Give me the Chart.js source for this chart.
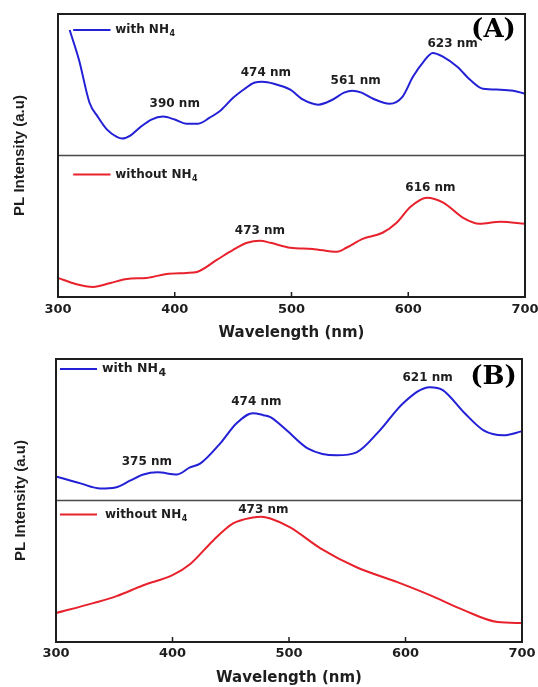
<!DOCTYPE html>
<html>
<head>
<meta charset="utf-8">
<script src="https://cdn.jsdelivr.net/npm/chart.js@4"></script>
<style>
  html, body { margin: 0; padding: 0; background: #ffffff; }
  #wrap { position: relative; width: 538px; height: 687px; }
  canvas { position: absolute; left: 0; }
</style>
</head>
<body>
<div id="wrap">
  <canvas id="chartA" width="538" height="345" style="top:0px"></canvas>
  <canvas id="chartB" width="538" height="342" style="top:345px"></canvas>
</div>
<script>
// ---------- Data ----------
const xTicks = [300, 400, 500, 600, 700];

// Panel (A), with NH4
const wlAWith  = [310, 318, 327, 334, 342, 350, 355, 362, 370, 380, 390, 400, 410, 420, 430, 440, 450, 460, 468, 475, 485, 499, 510, 523, 535, 545, 552, 560, 570, 584, 595, 604, 613, 621, 630, 642, 653, 664, 679, 690, 700];
const plAWith  = [88.7, 67.5, 37.3, 27.5, 18.3, 13.4, 12.0, 14.1, 19.7, 25.4, 27.5, 25.4, 22.5, 22.5, 26.8, 32.4, 40.8, 47.2, 51.4, 52.1, 50.7, 46.5, 39.4, 35.9, 39.4, 44.4, 45.8, 44.4, 40.1, 36.6, 41.5, 55.6, 66.2, 72.5, 69.7, 62.7, 53.5, 47.2, 46.5, 45.8, 43.7];

// Panel (A), without NH4
const wlAWithout = [300, 315, 330, 345, 359, 376, 393, 410, 419, 436, 450, 462, 473, 482, 499, 518, 539, 547, 561, 578, 590, 602, 616, 630, 647, 661, 679, 700];
const plAWithout = [13.5, 9.2, 7.1, 9.9, 12.8, 13.5, 16.3, 17.0, 17.7, 26.2, 33.3, 38.3, 39.7, 38.3, 34.8, 34.0, 31.9, 34.8, 41.1, 45.4, 52.5, 63.8, 70.2, 66.7, 56.0, 51.8, 53.2, 51.8];

// Panel (B), with NH4
const wlBWith  = [300, 321, 338, 351, 364, 375, 387, 404, 415, 424, 441, 455, 469, 478, 484, 498, 516, 541, 558, 578, 598, 621, 632, 650, 667, 684, 700];
const plBWith  = [17.0, 12.1, 8.5, 9.2, 14.2, 18.4, 19.9, 18.4, 23.4, 26.2, 40.4, 54.6, 61.7, 60.3, 58.9, 49.6, 36.9, 31.9, 34.0, 49.6, 68.8, 80.1, 78.0, 62.4, 49.6, 46.1, 48.9];

// Panel (B), without NH4
const wlBWithout = [300, 332, 352, 375, 400, 415, 435, 452, 469, 476, 484, 501, 527, 558, 593, 621, 650, 679, 700];
const plBWithout = [20.4, 27.5, 32.4, 40.1, 47.2, 54.9, 71.8, 83.8, 88.0, 88.5, 87.3, 81.0, 66.2, 52.8, 42.3, 33.1, 22.5, 14.1, 13.4];

// Peak annotations: text, wavelength, intensity
const peaksAWith    = [["390 nm", 400, 36.6], ["474 nm", 478, 58.5], ["561 nm", 555, 52.8], ["623 nm", 638, 78.9]];
const peaksAWithout = [["473 nm", 473, 46.8], ["616 nm", 619, 77.3]];
const peaksBWith    = [["375 nm", 378, 27.0], ["474 nm", 472, 69.7], ["621 nm", 619, 86.5]];
const peaksBWithout = [["473 nm", 478, 93.7]];

const seriesNames = ["with NH", "without NH"];

// ---------- Styling ----------
const BLUE = '#2320d6';
const RED  = '#e8222c';
const INK  = '#1e1e1e';
const SANS = '"DejaVu Sans", "Liberation Sans", Arial, sans-serif';
const SERIF = '"DejaVu Serif", "Liberation Serif", serif';

function pts(xs, ys) { return xs.map((x, i) => ({ x: x, y: ys[i] })); }

const decor = {
  id: 'decor',
  afterDatasetsDraw(chart, args, o) {
    const ctx = chart.ctx;
    const { left, right, top, bottom } = chart.chartArea;
    const xs = chart.scales.x;
    const yT = chart.scales.yTop;
    ctx.save();
    // divider between sub-panels
    ctx.strokeStyle = '#4a4a4a';
    ctx.lineWidth = 1.5;
    ctx.beginPath();
    ctx.moveTo(left, yT.bottom);
    ctx.lineTo(right, yT.bottom);
    ctx.stroke();
    // frame
    ctx.strokeStyle = INK;
    ctx.lineWidth = 2;
    ctx.strokeRect(left, top, right - left, bottom - top);
    // inward tick marks on the bottom axis
    ctx.lineWidth = 1.5;
    xs.ticks.forEach(t => {
      const px = xs.getPixelForValue(t.value);
      ctx.beginPath();
      ctx.moveTo(px, bottom);
      ctx.lineTo(px, bottom - 5);
      ctx.stroke();
    });
    // legends
    o.legends.forEach(L => {
      const ys = chart.scales[L.axis];
      const py = ys.getPixelForValue(L.y);
      const x0 = xs.getPixelForValue(L.x0), x1 = xs.getPixelForValue(L.x1);
      ctx.strokeStyle = L.color;
      ctx.lineWidth = 2;
      ctx.beginPath();
      ctx.moveTo(x0, py);
      ctx.lineTo(x1, py);
      ctx.stroke();
      ctx.fillStyle = INK;
      ctx.textAlign = 'left';
      ctx.textBaseline = 'middle';
      ctx.font = 'bold ' + L.size + 'px ' + SANS;
      const tx = xs.getPixelForValue(L.tx);
      ctx.fillText(L.text, tx, py);
      const w = ctx.measureText(L.text).width;
      ctx.font = 'bold ' + L.subSize + 'px ' + SANS;
      ctx.fillText(L.sub, tx + w + 0.5, py + L.subDy);
    });
    // peak labels
    ctx.fillStyle = INK;
    ctx.textAlign = 'center';
    ctx.textBaseline = 'middle';
    ctx.font = 'bold 12px ' + SANS;
    o.labels.forEach(P => {
      const ys = chart.scales[P.axis];
      ctx.fillText(P.text, xs.getPixelForValue(P.x), ys.getPixelForValue(P.y));
    });
    // panel letter
    ctx.font = 'bold 26px ' + SERIF;
    ctx.fillStyle = '#000';
    ctx.fillText(o.letter.text, xs.getPixelForValue(o.letter.x), yT.getPixelForValue(o.letter.y));
    ctx.restore();
  }
};

function makeChart(id, cfg) {
  const axisH = cfg.axisHeight, leftW = cfg.leftWidth;
  return new Chart(document.getElementById(id), {
    type: 'line',
    data: {
      datasets: [
        { label: seriesNames[0] + '4', data: pts(cfg.wlWith, cfg.plWith), yAxisID: 'yTop',
          borderColor: BLUE, borderWidth: 2, pointRadius: 0, cubicInterpolationMode: 'monotone', fill: false },
        { label: seriesNames[1] + '4', data: pts(cfg.wlWithout, cfg.plWithout), yAxisID: 'yBot',
          borderColor: RED, borderWidth: 2, pointRadius: 0, cubicInterpolationMode: 'monotone', fill: false }
      ]
    },
    options: {
      responsive: false,
      animation: false,
      events: [],
      layout: { padding: { top: cfg.padTop, right: cfg.padRight, left: 0, bottom: 0 } },
      plugins: {
        legend: { display: false },
        tooltip: { enabled: false },
        decor: {
          legends: [
            { axis: 'yTop', y: cfg.legTopY, x0: cfg.legX0, x1: cfg.legX1, tx: cfg.legTx, color: BLUE,
              text: seriesNames[0], sub: '4', size: cfg.legTopSize, subSize: cfg.legTopSub, subDy: cfg.legTopDy },
            { axis: 'yBot', y: cfg.legBotY, x0: cfg.legX0, x1: cfg.legX1, tx: cfg.legTxBot, color: RED,
              text: seriesNames[1], sub: '4', size: 12, subSize: 8, subDy: 4 }
          ],
          labels: cfg.peaksWith.map(p => ({ text: p[0], x: p[1], y: p[2], axis: 'yTop' }))
            .concat(cfg.peaksWithout.map(p => ({ text: p[0], x: p[1], y: p[2], axis: 'yBot' }))),
          letter: cfg.letter
        }
      },
      scales: {
        x: {
          type: 'linear', position: 'bottom', min: 300, max: 700,
          afterBuildTicks: (s) => { s.ticks = xTicks.map(v => ({ value: v })); },
          ticks: { color: INK, font: { family: SANS, size: 13, weight: 'bold' }, padding: cfg.tickPad, maxRotation: 0 },
          grid: { display: false, drawTicks: false },
          border: { display: false },
          title: { display: true, text: 'Wavelength (nm)', color: INK,
                   font: { family: SANS, size: 15, weight: 'bold' }, padding: { top: 0, bottom: cfg.titlePad } },
          afterFit: (s) => { s.height = axisH; s.paddingLeft = 0; s.paddingRight = 0; }
        },
        yTitle: {
          type: 'linear', position: 'left', min: 0, max: 1,
          ticks: { display: false },
          grid: { display: false, drawTicks: false },
          border: { display: false },
          title: { display: true, text: 'PL Intensity (a.u)', color: INK,
                   font: { family: '"Liberation Sans", Arial, sans-serif', size: 15, weight: 'bold' },
                   padding: { top: cfg.yTitlePad, bottom: 0 } },
          afterFit: (s) => { s.width = leftW; s.paddingTop = 0; s.paddingBottom = 0; }
        },
        yBot: { type: 'linear', position: 'left', stack: 'pl', stackWeight: 1, min: 0, max: 100, display: false },
        yTop: { type: 'linear', position: 'left', stack: 'pl', stackWeight: 1, min: 0, max: 100, display: false }
      }
    },
    plugins: [decor]
  });
}

makeChart('chartA', {
  wlWith: wlAWith, plWith: plAWith, wlWithout: wlAWithout, plWithout: plAWithout,
  peaksWith: peaksAWith, peaksWithout: peaksAWithout,
  padTop: 14, padRight: 13, leftWidth: 58, axisHeight: 48, tickPad: 5, titlePad: 3, yTitlePad: 11,
  legTopY: 88.7, legBotY: 86.5, legX0: 313, legX1: 345, legTx: 349, legTxBot: 349,
  legTopSize: 12, legTopSub: 8, legTopDy: 4,
  letter: { text: '(A)', x: 673, y: 88.4 }
});

makeChart('chartB', {
  wlWith: wlBWith, plWith: plBWith, wlWithout: wlBWithout, plWithout: plBWithout,
  peaksWith: peaksBWith, peaksWithout: peaksBWithout,
  padTop: 14, padRight: 16, leftWidth: 56, axisHeight: 45, tickPad: 4, titlePad: 0, yTitlePad: 12,
  legTopY: 92.9, legBotY: 90.1, legX0: 303.4, legX1: 335.2, legTx: 339.5, legTxBot: 342,
  legTopSize: 12.5, legTopSub: 11, legTopDy: 4,
  letter: { text: '(B)', x: 675.5, y: 87.2 }
});
</script>
</body>
</html>
